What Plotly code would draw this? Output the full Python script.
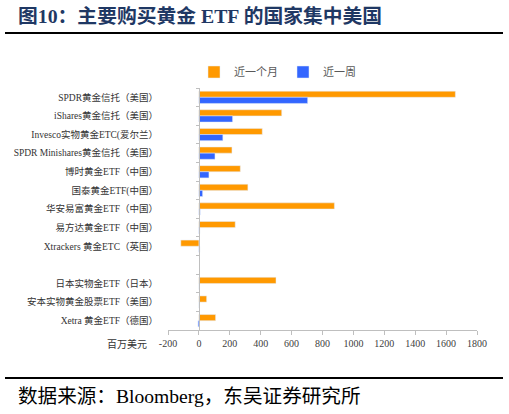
import plotly.graph_objects as go

# data (百万美元)
funds = [
    "SPDR黄金信托（美国）",
    "iShares黄金信托（美国）",
    "Invesco实物黄金ETC(爱尔兰）",
    "SPDR Minishares黄金信托（美国）",
    "博时黄金ETF（中国）",
    "国泰黄金ETF(中国）",
    "华安易富黄金ETF（中国）",
    "易方达黄金ETF（中国）",
    "Xtrackers 黄金ETC（英国）",
    " ",
    "日本实物金ETF（日本）",
    "安本实物黄金股票ETF（美国）",
    "Xetra 黄金ETF（德国）",
]
last_month = [1660, 536, 410, 214, 268, 317, 877, 235, -117, None, 499, 50, 108]
last_week = [704, 218, 155, 104, 65, 24, 8, 6, 6, None, 0, 0, -6]
x_ticks = [-200, 0, 200, 400, 600, 800, 1000, 1200, 1400, 1600, 1800]

W, H = 509, 414
L, R, T, B = 168, 32, 88, 84
PW, PH = W - L - R, H - T - B


def fx(px):
    return (px - L) / PW


def fy(py):
    return (H - B - py) / PH


serif = "Liberation Serif, Noto Sans CJK SC, serif"
cat_range = [len(funds) - 0.5, -0.5]

fig = go.Figure()
fig.add_trace(go.Bar(y=funds, x=last_month, orientation="h", name="近一个月",
                     marker_color="#FF9900"))
fig.add_trace(go.Bar(y=funds, x=last_week, orientation="h", name="近一周",
                     marker_color="#3366FF"))
# helper trace so the value axis at x=0 gets drawn with its ticks
fig.add_trace(go.Scatter(y=funds, x=[0] * len(funds), mode="markers",
                         marker=dict(opacity=0), showlegend=False,
                         hoverinfo="skip", yaxis="y2"))

fig.update_layout(
    width=W, height=H,
    margin=dict(l=L, r=R, t=T, b=B, autoexpand=False),
    paper_bgcolor="white", plot_bgcolor="white",
    barmode="group", bargap=0.34, bargroupgap=0,
    showlegend=True,
    legend=dict(orientation="h", x=fx(194), y=fy(72), xanchor="left", yanchor="middle",
                font=dict(family="Noto Sans CJK SC", size=11, color="#595959"),
                itemwidth=30, traceorder="normal"),
    xaxis=dict(range=[-200, 1800], tickvals=x_ticks, ticktext=[str(v) for v in x_ticks],
               ticks="outside", ticklen=4,
               tickcolor="#BFBFBF", showline=True, linecolor="#BFBFBF", linewidth=1,
               showgrid=False, zeroline=False,
               tickfont=dict(family=serif, size=10, color="#404040")),
    yaxis=dict(range=cat_range, showline=False, ticks="", showgrid=False,
               tickfont=dict(family=serif, size=9.5, color="#333333"),
               ticklabelstandoff=9),
    yaxis2=dict(overlaying="y", anchor="free", position=fx(199),
                range=cat_range, showticklabels=False, showline=True,
                linecolor="#BFBFBF", linewidth=1, ticks="outside", ticklen=3,
                tickcolor="#BFBFBF", tickson="boundaries", showgrid=False),
    title=dict(text="<b>图10：主要购买黄金 ETF 的国家集中美国</b>", x=18 / W, xanchor="left",
               xref="container", y=1 - 16 / H, yanchor="middle", yref="container",
               font=dict(family="Liberation Serif, Noto Sans CJK SC", size=19.8, color="#1F3864")),
)

fig.add_shape(type="line", xref="paper", yref="paper", x0=fx(5), x1=fx(503),
              y0=fy(33), y1=fy(33), line=dict(color="black", width=2))
fig.add_shape(type="line", xref="paper", yref="paper", x0=fx(5), x1=fx(503),
              y0=fy(378), y1=fy(378), line=dict(color="black", width=2))

fig.add_annotation(text="百万美元", xref="paper", yref="paper", x=fx(127), y=fy(343),
                   showarrow=False, xanchor="center", yanchor="middle",
                   font=dict(family="Noto Sans CJK SC", size=10, color="#333333"))
fig.add_annotation(text="数据来源：Bloomberg，东吴证券研究所", xref="paper", yref="paper",
                   x=fx(16), y=fy(396), showarrow=False, xanchor="left", yanchor="middle",
                   font=dict(family=serif, size=19.6, color="black"))

fig.write_html("out.html", config={"displayModeBar": False},
               post_script="document.body.style.margin='0';")
